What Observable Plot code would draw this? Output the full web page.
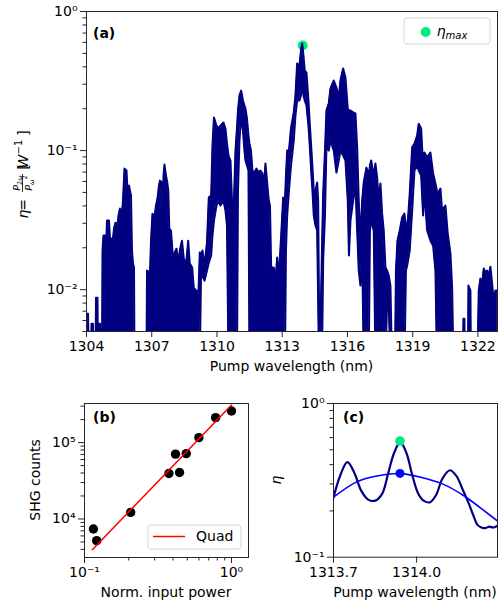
<!DOCTYPE html>
<html>
<head>
<meta charset="utf-8">
<script src="https://cdn.jsdelivr.net/npm/d3@7"></script>
<script src="https://cdn.jsdelivr.net/npm/@observablehq/plot@0.6"></script>
<style>
  html, body { margin: 0; padding: 0; background: #ffffff; }
  #fig { position: relative; width: 499px; height: 608px; overflow: hidden; background: #ffffff; }
  #fig svg { position: absolute; overflow: visible; }
</style>
</head>
<body>
<div id="fig"></div>
<script>
// ---------------- data ----------------
const Z = 0.003; // value below the visible floor of panel (a)

// Panel (a): SHG efficiency spectrum, upper / lower envelope of the dense fringe trace
const specWl = [
1304.000,1304.069,1304.115,1304.207,1304.230,1304.299,1304.322,1304.414,1304.437,1304.506,
1304.529,1304.575,1304.621,1304.667,1304.713,1304.736,1304.782,1304.851,1304.897,1304.943,
1305.034,1305.080,1305.218,1305.264,1305.333,1305.425,1305.471,1305.540,1305.632,1305.678,
1305.747,1305.839,1305.885,1305.954,1306.046,1306.092,1306.138,1306.184,1306.207,1306.759,
1306.782,1306.920,1306.966,1307.034,1307.126,1307.195,1307.264,1307.333,1307.379,1307.471,
1307.508,1307.540,1307.586,1307.655,1307.715,1307.761,1307.807,1307.885,1307.968,1308.046,
1308.138,1308.216,1308.290,1308.391,1308.474,1308.584,1308.676,1308.749,1308.860,1308.933,
1309.057,1309.149,1309.209,1309.264,1309.333,1309.425,1309.540,1309.623,1309.733,1309.793,
1309.862,1309.977,1310.069,1310.161,1310.299,1310.391,1310.460,1310.529,1310.621,1310.690,
1310.772,1310.851,1310.920,1310.966,1311.034,1311.113,1311.195,1311.264,1311.310,1311.379,
1311.448,1311.494,1311.563,1311.632,1311.724,1311.816,1311.908,1312.000,1312.092,1312.161,
1312.230,1312.299,1312.382,1312.437,1312.492,1312.611,1312.690,1312.768,1312.841,1312.952,
1313.044,1313.126,1313.172,1313.228,1313.310,1313.402,1313.531,1313.609,1313.687,1313.793,
1313.862,1313.917,1313.977,1314.037,1314.115,1314.207,1314.267,1314.345,1314.391,1314.451,
1314.529,1314.607,1314.653,1314.690,1314.782,1314.828,1314.883,1314.966,1315.034,1315.140,
1315.218,1315.370,1315.494,1315.600,1315.678,1315.802,1315.908,1316.014,1316.069,1316.138,
1316.262,1316.368,1316.446,1316.520,1316.598,1316.676,1316.749,1316.874,1316.979,1317.034,
1317.090,1317.209,1317.287,1317.366,1317.439,1317.517,1317.595,1317.669,1317.747,1317.825,
1317.899,1317.977,1318.046,1318.184,1318.230,1318.299,1318.405,1318.515,1318.621,1318.690,
1318.745,1318.864,1318.975,1319.080,1319.205,1319.278,1319.389,1319.480,1319.540,1319.664,
1319.816,1319.940,1320.046,1320.115,1320.152,1320.276,1320.354,1320.506,1320.611,1320.736,
1320.814,1320.874,1321.310,1321.333,1321.379,1321.402,1321.540,1321.563,1321.655,1321.678,
1321.977,1322.037,1322.115,1322.193,1322.267,1322.345,1322.423,1322.497,1322.575,1322.653,
1322.726,1322.805,1322.897
];
const specUp = [
0.00672,0.00672,Z,Z,0.00569,0.00569,Z,Z,0.00876,0.00876,
Z,0.00569,0.00569,Z,Z,0.0191,0.0245,0.0245,0.0191,0.0314,
0.0314,0.0233,0.0233,0.0275,0.0303,0.0289,0.0341,0.0383,0.0352,0.0437,
0.0742,0.0718,0.0515,0.0560,0.0475,0.0191,0.0154,0.0144,Z,Z,
0.0137,0.0133,0.0225,0.0352,0.0330,0.0402,0.0452,0.0560,0.0608,0.0589,
0.0275,0.0661,0.0793,0.0661,0.0589,0.0515,0.0275,0.0266,0.0176,0.0182,
0.0197,0.0156,0.0191,0.0225,0.0167,0.0154,0.0225,0.0154,0.0144,0.0103,
0.00984,0.00952,0.0185,0.0176,0.0191,0.0149,0.0218,0.0459,0.0475,0.109,
0.173,0.151,0.144,0.151,0.159,0.144,0.112,0.0920,0.0848,0.0437,
0.0402,0.100,0.146,0.194,0.249,0.270,0.229,0.211,0.2005,0.170,
0.128,0.112,0.100,0.0718,0.0695,0.0742,0.0695,0.0718,0.0684,0.0560,
0.0806,0.0608,0.0437,0.0402,0.0144,0.0144,0.0116,0.0170,0.0122,0.0245,
0.0459,0.0437,0.0661,0.100,0.100,0.144,0.188,0.249,0.423,0.409,
0.524,0.589,0.483,0.376,0.364,0.229,0.156,0.100,0.0754,0.0515,
0.0515,0.0589,0.0437,0.00834,0.00834,0.0191,0.0490,0.100,0.194,0.218,
0.279,0.319,0.284,0.241,0.319,0.389,0.335,0.2005,0.194,0.194,
0.188,0.185,0.105,0.0437,0.0225,0.0437,0.0589,0.0754,0.0661,0.0780,
0.0848,0.0661,0.0806,0.0639,0.0437,0.0579,0.0352,0.0266,0.0144,0.0137,
0.0126,0.0107,Z,Z,0.0137,0.0225,0.0266,0.0330,0.0352,0.0289,
0.0266,0.0490,0.105,0.112,0.128,0.156,0.144,0.0754,0.0967,0.0891,
0.0967,0.0684,0.0579,0.0515,0.0490,0.0533,0.0370,0.0402,0.0253,0.0182,
0.0103,Z,Z,0.00618,0.00618,Z,Z,0.0107,0.00984,Z,
Z,0.00984,0.0120,0.0110,0.0142,0.0133,0.0137,0.0126,0.0146,0.0110,
0.00834,0.00984,0.00984
];
const specLo = [
Z,Z,Z,Z,Z,Z,Z,Z,Z,Z,
Z,Z,Z,Z,Z,Z,Z,Z,Z,Z,
Z,Z,Z,Z,Z,Z,Z,Z,Z,Z,
Z,Z,Z,Z,Z,Z,Z,Z,Z,Z,
Z,Z,Z,Z,Z,Z,Z,Z,Z,Z,
Z,Z,Z,Z,Z,Z,Z,Z,Z,Z,
Z,Z,Z,Z,Z,Z,Z,Z,Z,Z,
Z,Z,Z,0.0120,0.0126,0.0116,0.0137,0.0156,0.0176,0.0245,
0.0314,0.0402,0.0437,0.0402,0.0437,0.0370,0.0289,Z,Z,Z,
Z,Z,Z,0.0515,0.118,0.179,0.139,0.100,0.0848,0.0780,
0.0718,Z,Z,Z,Z,Z,Z,Z,Z,Z,
Z,Z,Z,Z,Z,Z,Z,Z,Z,Z,
Z,Z,0.0191,0.0341,0.0515,0.0780,0.118,0.179,0.229,0.229,
0.249,0.319,0.249,0.229,0.211,0.151,0.109,0.0661,0.0515,0.0341,
0.0289,0.0266,0.00834,Z,Z,Z,0.0162,0.0341,0.109,0.100,
0.118,0.100,0.0695,0.0848,0.100,0.0920,0.0848,0.0437,0.0176,0.0314,
0.0437,0.0560,0.0266,0.0137,0.0107,0.0191,Z,Z,Z,0.0266,
0.0314,0.0266,Z,Z,Z,Z,Z,Z,Z,0.00834,
0.00767,Z,Z,Z,Z,Z,Z,Z,Z,0.0137,
0.0149,0.0191,0.0370,0.0718,0.0780,0.0718,0.0661,0.0341,0.0515,0.0266,
0.0225,0.0207,0.0137,Z,Z,Z,Z,Z,Z,Z,
Z,Z,Z,Z,Z,Z,Z,Z,Z,Z,
Z,Z,Z,Z,Z,Z,Z,Z,Z,Z,
Z,Z,Z
];
const etaMaxWl = 1313.94;
const etaMax = 0.57;
const fitMax = 0.351;

// Panel (b): power scaling
const powerB = [0.115, 0.121, 0.206, 0.375, 0.416, 0.443, 0.492, 0.60, 0.78, 1.0];
const countsB = [7400, 5200, 12200, 39400, 70600, 40600, 71800, 116000, 212000, 259000];
const quadP = [0.113, 1.0];
const quadC = [3950, 310000];

// Panel (c): zoom on the main peak
const cWl = [1313.700,1313.724,1313.750,1313.775,1313.800,1313.825,1313.851,1313.876,1313.898,1313.919,
             1313.941,1313.963,1313.984,1314.006,1314.028,1314.049,1314.071,1314.093,1314.120,1314.143,
             1314.165,1314.187,1314.205,1314.219,1314.234,1314.248,1314.263,1314.277,1314.292];
const cEta = [0.244,0.339,0.415,0.355,0.271,0.237,0.2335,0.259,0.355,0.478,
              0.560,0.478,0.344,0.259,0.2316,0.228,0.255,0.324,0.368,0.339,
              0.279,0.2265,0.1866,0.163,0.156,0.1547,0.158,0.156,0.1606];
const fitWl = [1313.700,1313.782,1313.862,1313.941,1314.013,1314.093,1314.172,1314.234,1314.292];
const fitEta = [0.246,0.308,0.339,0.350,0.332,0.300,0.250,0.207,0.172];

// ticks
const xTicksA = [1304, 1307, 1310, 1313, 1316, 1319, 1322];
const yTicksA = [0.01, 0.1, 1];
const yMinorA = [0.005,0.006,0.007,0.008,0.009,0.02,0.03,0.04,0.05,0.06,0.07,0.08,0.09,0.2,0.3,0.4,0.5,0.6,0.7,0.8,0.9];
const xTicksB = [0.1, 1];
const xMinorB = [0.2,0.3,0.4,0.5,0.6,0.7,0.8,0.9];
const yTicksB = [1e4, 1e5];
const yMinorB = [4000,5000,6000,7000,8000,9000,20000,30000,40000,50000,60000,70000,80000,90000,200000,300000];
const xTicksC = [1313.7, 1314.0];
const yTicksC = [0.1, 1];
const yMinorC = [0.2,0.3,0.4,0.5,0.6,0.7,0.8,0.9];

// ---------------- style ----------------
const NAVY = "#000080", GREEN = "#00ec7c", BLUE = "#0000ff", RED = "#ff0000", INK = "#262626";
const FONT = "DejaVu Sans";
const sup = {"0":"⁰","1":"¹","2":"²","3":"³","4":"⁴","5":"⁵","6":"⁶","7":"⁷","8":"⁸","9":"⁹","-":"⁻"};
const pow10 = d => "10" + String(Math.round(Math.log10(d))).split("").map(c => sup[c]).join("");
const blank = () => "";
const baseStyle = {background: "transparent", overflow: "visible", fontFamily: FONT};

const fig = document.getElementById("fig");
function place(svg, left, top) {
  svg.style.left = left + "px";
  svg.style.top = top + "px";
  fig.appendChild(svg);
  return d3.select(svg);
}
function txt(sel, x, y, str, o = {}) {
  return sel.append("text")
    .attr("transform", `translate(${x},${y})` + (o.rotate ? ` rotate(${o.rotate})` : ""))
    .attr("font-family", FONT).attr("font-size", o.size || 14)
    .attr("text-anchor", o.anchor || "start")
    .attr("font-weight", o.weight || "normal")
    .attr("font-style", o.style || "normal")
    .attr("fill", "#000").text(str);
}

// ---------------- panel (a) ----------------
const rowsA = specWl.map((w, i) => ({w, up: specUp[i], lo: specLo[i]}));
const svgA = Plot.plot({
  width: 499, height: 385,
  marginTop: 11, marginRight: 2, marginBottom: 54, marginLeft: 86,
  style: baseStyle,
  x: {type: "linear", domain: [1304, 1322.9]},
  y: {type: "log", domain: [0.005, 1]},
  marks: [
    Plot.dot([{w: etaMaxWl, e: etaMax}], {x: "w", y: "e", r: 5, fill: GREEN}),
    Plot.areaY(rowsA, {x: "w", y1: "lo", y2: "up", fill: NAVY, clip: true}),
    Plot.line(rowsA, {x: "w", y: "up", stroke: NAVY, strokeWidth: 2, clip: true}),
    Plot.line(rowsA, {x: "w", y: "lo", stroke: NAVY, strokeWidth: 2, clip: true}),
    Plot.frame({stroke: INK}),
    Plot.axisY({ticks: yMinorA, tickSize: 3.5, tickFormat: blank, label: null, stroke: INK}),
    Plot.axisY({ticks: yTicksA, tickSize: 6, tickPadding: 3, tickFormat: pow10, fontSize: 14, label: null, stroke: INK}),
    Plot.axisX({ticks: xTicksA, tickSize: 6, tickPadding: 4, tickFormat: d => String(d), fontSize: 14, label: null, stroke: INK})
  ]
});
const A = place(svgA, 0, 0);
txt(A, 93, 38, "(a)", {weight: "bold"});
txt(A, 291.5, 371, "Pump wavelength (nm)", {anchor: "middle"});
// legend (a)
A.append("rect").attr("x", 404).attr("y", 18).attr("width", 86).attr("height", 26).attr("rx", 3)
  .attr("fill", "#fff").attr("fill-opacity", 0.8).attr("stroke", "#d6d6d6");
A.append("circle").attr("cx", 425.7).attr("cy", 32).attr("r", 5).attr("fill", GREEN);
{
  const t = A.append("text").attr("x", 452).attr("y", 36).attr("font-family", FONT).attr("font-size", 14).attr("font-style", "italic").attr("fill", "#000");
  t.append("tspan").text("η");
  t.append("tspan").attr("font-size", 10).attr("dy", 3).text("max");
}
// y label (a): η = P_2ω / P_ω² [W⁻¹]  (rotated; local x runs upward on the page)
{
  const g = A.append("g").attr("transform", "translate(28,171) rotate(-90)")
    .attr("font-family", FONT).attr("fill", "#000");
  g.append("text").attr("x", -43).attr("y", 0).attr("font-size", 14).attr("font-style", "italic").text("η");
  g.append("text").attr("x", -34).attr("y", 0).attr("font-size", 14).text("=");
  // fraction
  const cx = -12;
  const num = g.append("text").attr("x", cx).attr("y", -8.5).attr("font-size", 9.5).attr("text-anchor", "middle");
  num.append("tspan").attr("font-style", "italic").text("P");
  num.append("tspan").attr("font-size", 6.5).attr("dy", 2).text("2");
  num.append("tspan").attr("font-size", 6.5).attr("font-style", "italic").text("ω");
  g.append("line").attr("x1", cx - 9).attr("x2", cx + 9).attr("y1", -5.5).attr("y2", -5.5)
    .attr("stroke", "#000").attr("stroke-width", 0.8);
  const den = g.append("text").attr("x", cx).attr("y", 3.5).attr("font-size", 9.5).attr("text-anchor", "middle");
  den.append("tspan").attr("font-style", "italic").text("P");
  den.append("tspan").attr("font-size", 6.5).attr("dy", 2).attr("font-style", "italic").text("ω");
  den.append("tspan").attr("font-size", 6.5).attr("dy", -7).text("2");
  // [W^-1]
  g.append("text").attr("x", 4).attr("y", 0).attr("font-size", 14).text("[");
  g.append("text").attr("x", 9.5).attr("y", 0).attr("font-size", 14).attr("font-style", "italic").text("W");
  g.append("text").attr("x", 24).attr("y", -6).attr("font-size", 10).text("−1");
  g.append("text").attr("x", 38).attr("y", 0).attr("font-size", 14).text("]");
}

// ---------------- panel (b) ----------------
const rowsB = powerB.map((p, i) => ({p, c: countsB[i]}));
const rowsQ = quadP.map((p, i) => ({p, c: quadC[i]}));
const svgB = Plot.plot({
  width: 260, height: 223,
  marginTop: 18, marginRight: 12, marginBottom: 51, marginLeft: 84,
  style: baseStyle,
  x: {type: "log", domain: [0.1, 1.305]},
  y: {type: "log", domain: [3130, 325000]},
  marks: [
    Plot.dot(rowsB, {x: "p", y: "c", r: 4.7, fill: "#000"}),
    Plot.line(rowsQ, {x: "p", y: "c", stroke: RED, strokeWidth: 1.5}),
    Plot.frame({stroke: INK}),
    Plot.axisY({ticks: yMinorB, tickSize: 3.5, tickFormat: blank, label: null, stroke: INK}),
    Plot.axisY({ticks: yTicksB, tickSize: 6, tickPadding: 3, tickFormat: pow10, fontSize: 14, label: null, stroke: INK}),
    Plot.axisX({ticks: xMinorB, tickSize: 3.5, tickFormat: blank, label: null, stroke: INK}),
    Plot.axisX({ticks: xTicksB, tickSize: 6, tickPadding: 4, tickFormat: pow10, fontSize: 14, label: null, stroke: INK})
  ]
});
const B = place(svgB, 0, 385);
txt(B, 93, 37, "(b)", {weight: "bold"});
txt(B, 166, 212, "Norm. input power", {anchor: "middle"});
txt(B, 40, 95, "SHG counts", {anchor: "middle", rotate: -90});
B.append("rect").attr("x", 148).attr("y", 140).attr("width", 93).attr("height", 24).attr("rx", 3)
  .attr("fill", "#fff").attr("fill-opacity", 0.8).attr("stroke", "#d6d6d6");
B.append("line").attr("x1", 153).attr("x2", 185).attr("y1", 151.5).attr("y2", 151.5).attr("stroke", RED).attr("stroke-width", 1.5);
txt(B, 196, 156, "Quad");

// ---------------- panel (c) ----------------
const rowsC = cWl.map((w, i) => ({w, e: cEta[i]}));
const rowsF = fitWl.map((w, i) => ({w, e: fitEta[i]}));
const svgC = Plot.plot({
  width: 239, height: 223,
  marginTop: 18, marginRight: 2, marginBottom: 51.3, marginLeft: 73,
  style: baseStyle,
  x: {type: "linear", domain: [1313.7, 1314.292]},
  y: {type: "log", domain: [0.1, 1]},
  marks: [
    Plot.line(rowsC, {x: "w", y: "e", stroke: NAVY, strokeWidth: 2.2, curve: "catmull-rom", clip: true}),
    Plot.line(rowsF, {x: "w", y: "e", stroke: BLUE, strokeWidth: 1.6, curve: "natural", clip: true}),
    Plot.dot([{w: etaMaxWl, e: etaMax}], {x: "w", y: "e", r: 4.8, fill: GREEN}),
    Plot.dot([{w: etaMaxWl, e: fitMax}], {x: "w", y: "e", r: 4.5, fill: BLUE}),
    Plot.frame({stroke: INK}),
    Plot.axisY({ticks: yMinorC, tickSize: 3.5, tickFormat: blank, label: null, stroke: INK}),
    Plot.axisY({ticks: yTicksC, tickSize: 6, tickPadding: 3, tickFormat: pow10, fontSize: 14, label: null, stroke: INK}),
    Plot.axisX({ticks: xTicksC, tickSize: 6, tickPadding: 4, tickFormat: d3.format(".1f"), fontSize: 14, label: null, stroke: INK})
  ]
});
const C = place(svgC, 260, 385);
txt(C, 83, 37, "(c)", {weight: "bold"});
txt(C, 155, 212, "Pump wavelength (nm)", {anchor: "middle"});
txt(C, 21, 95, "η", {anchor: "middle", rotate: -90, style: "italic"});
</script>
</body>
</html>
